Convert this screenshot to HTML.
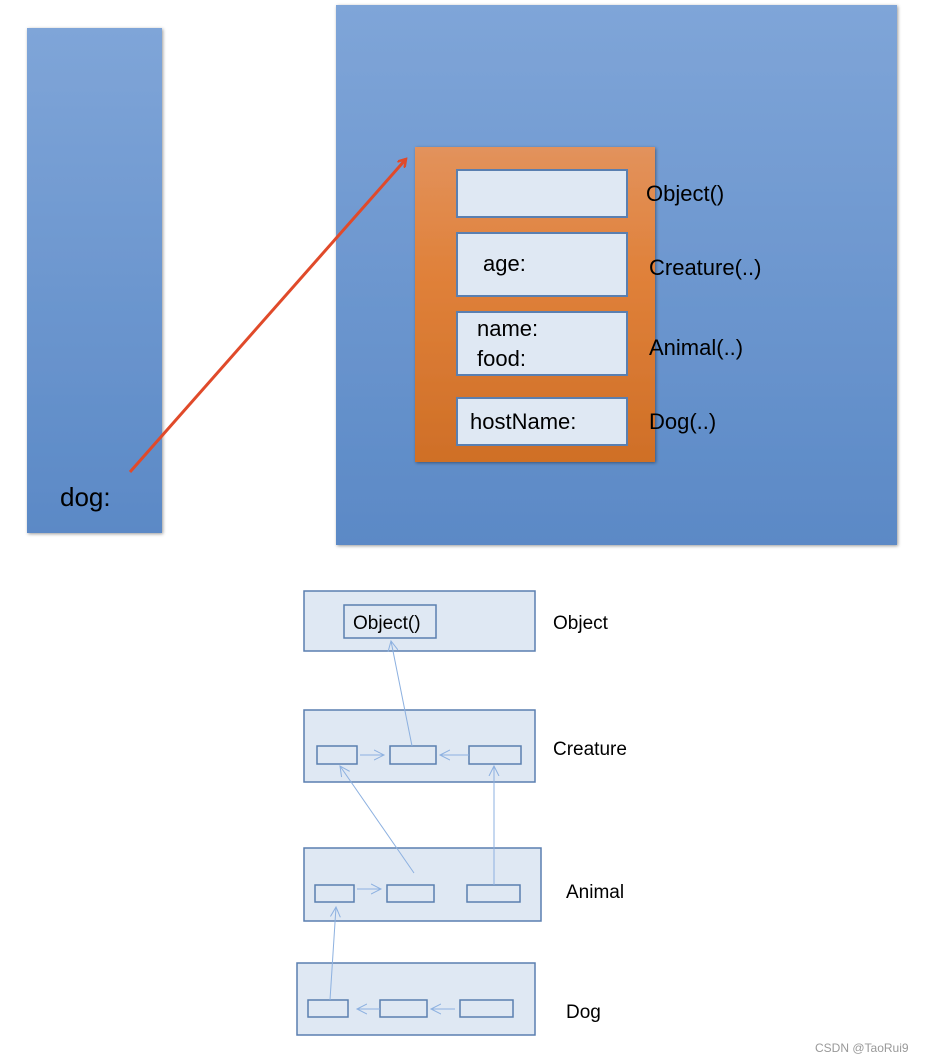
<!DOCTYPE html>
<html><head><meta charset="utf-8"><style>
html,body{margin:0;padding:0;background:#fff;}
svg{display:block;font-family:"Liberation Sans",Arial,sans-serif;}
</style></head><body>
<svg width="925" height="1062" viewBox="0 0 925 1062" xmlns="http://www.w3.org/2000/svg">
<defs>
<linearGradient id="bl" x1="0" y1="0" x2="0" y2="1"><stop offset="0" stop-color="#7fa5d8"/><stop offset="1" stop-color="#5b89c6"/></linearGradient>
<linearGradient id="or" x1="0" y1="0" x2="0" y2="1"><stop offset="0" stop-color="#e2925c"/><stop offset="0.4" stop-color="#e0813a"/><stop offset="1" stop-color="#cf6f27"/></linearGradient>
<filter id="sh" x="-5%" y="-5%" width="110%" height="110%"><feDropShadow dx="1" dy="1" stdDeviation="1.5" flood-color="#000" flood-opacity="0.4"/></filter>
<marker id="ra" markerWidth="10" markerHeight="10" refX="8" refY="5" orient="auto" markerUnits="userSpaceOnUse"><path d="M0,0 L8,5 L0,10" fill="none" stroke="#e04a2a" stroke-width="2.5"/></marker>
<marker id="ba" markerWidth="12" markerHeight="12" refX="10" refY="6" orient="auto" markerUnits="userSpaceOnUse"><path d="M0,1 L10,6 L0,11" fill="none" stroke="#8cb0e0" stroke-width="1"/></marker>
</defs>
<rect x="27" y="28" width="135" height="505" fill="url(#bl)" filter="url(#sh)"/>
<rect x="336" y="5" width="561" height="540" fill="url(#bl)" filter="url(#sh)"/>
<rect x="415" y="147" width="240" height="315" fill="url(#or)" filter="url(#sh)"/>
<g fill="#dfe8f3" stroke="#5a7fb0" stroke-width="2">
<rect x="457" y="170" width="170" height="47"/>
<rect x="457" y="233" width="170" height="63"/>
<rect x="457" y="312" width="170" height="63"/>
<rect x="457" y="398" width="170" height="47"/>
</g>
<g font-size="22" fill="#000">
<text x="483" y="271">age:</text>
<text x="477" y="336">name:</text>
<text x="477" y="366">food:</text>
<text x="470" y="429">hostName:</text>
<text x="646" y="201">Object()</text>
<text x="649" y="275">Creature(..)</text>
<text x="649" y="355">Animal(..)</text>
<text x="649" y="429">Dog(..)</text>
<text x="60" y="506" font-size="26">dog:</text>
</g>
<line x1="130" y1="472" x2="406" y2="159" stroke="#e04a2a" stroke-width="3" marker-end="url(#ra)"/>

<g fill="#dfe8f3" stroke="#5a7fb0" stroke-width="1.5">
<rect x="304" y="591" width="231" height="60"/>
<rect x="344" y="605" width="92" height="33"/>
<rect x="304" y="710" width="231" height="72"/>
<rect x="317" y="746" width="40" height="18"/>
<rect x="390" y="746" width="46" height="18"/>
<rect x="469" y="746" width="52" height="18"/>
<rect x="304" y="848" width="237" height="73"/>
<rect x="315" y="885" width="39" height="17"/>
<rect x="387" y="885" width="47" height="17"/>
<rect x="467" y="885" width="53" height="17"/>
<rect x="297" y="963" width="238" height="72"/>
<rect x="308" y="1000" width="40" height="17"/>
<rect x="380" y="1000" width="47" height="17"/>
<rect x="460" y="1000" width="53" height="17"/>
</g>
<g stroke="#8cb0e0" stroke-width="1" fill="none" marker-end="url(#ba)">
<line x1="412" y1="746" x2="391" y2="641"/>
<line x1="360" y1="755" x2="384" y2="755"/>
<line x1="469" y1="755" x2="440" y2="755"/>
<line x1="414" y1="873" x2="340" y2="766"/>
<line x1="494" y1="885" x2="494" y2="766"/>
<line x1="357" y1="889" x2="381" y2="889"/>
<line x1="330" y1="1000" x2="336" y2="907"/>
<line x1="380" y1="1009" x2="357" y2="1009"/>
<line x1="455" y1="1009" x2="431" y2="1009"/>
</g>
<g font-size="19" fill="#000">
<text x="353" y="629">Object()</text>
<text x="553" y="629">Object</text>
<text x="553" y="755">Creature</text>
<text x="566" y="898">Animal</text>
<text x="566" y="1018">Dog</text>
</g>
<text x="815" y="1052" font-size="12" fill="#999">CSDN @TaoRui9</text>
</svg>
</body></html>
